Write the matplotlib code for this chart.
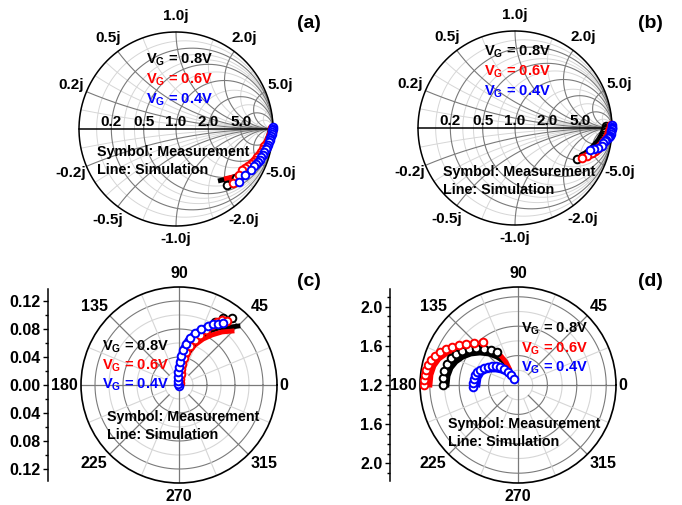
import numpy as np
import matplotlib
matplotlib.use("Agg")
import matplotlib.pyplot as plt
from matplotlib.ticker import MultipleLocator

plt.rcParams['font.family'] = 'Liberation Sans'
plt.rcParams['font.weight'] = 'bold'
plt.rcParams['mathtext.fontset'] = 'custom'
plt.rcParams['mathtext.rm'] = 'Liberation Sans:bold'
plt.rcParams['mathtext.bf'] = 'Liberation Sans:bold'
plt.rcParams['mathtext.default'] = 'bf'

W, H = 682, 505

# ---- data ----
voltages = ['0.8V', '0.6V', '0.4V']
colors = ['black', 'red', 'blue']

# (a) reflection coefficient, real / imag
a_meas_re = [[0.990, 0.985, 0.979, 0.969, 0.959, 0.948, 0.933, 0.918, 0.903, 0.887, 0.866, 0.845, 0.825, 0.804, 0.780, 0.753, 0.722, 0.691, 0.655, 0.619, 0.526],
             [0.990, 0.990, 0.985, 0.979, 0.969, 0.959, 0.948, 0.928, 0.907, 0.892, 0.876, 0.856, 0.835, 0.815, 0.794, 0.770, 0.742, 0.711, 0.680, 0.649, 0.588],
             [0.995, 0.995, 0.993, 0.990, 0.985, 0.979, 0.974, 0.969, 0.959, 0.948, 0.938, 0.928, 0.912, 0.897, 0.880, 0.866, 0.845, 0.825, 0.800, 0.773, 0.711, 0.649]]
a_meas_im = [[0.0, -0.020, -0.041, -0.082, -0.108, -0.134, -0.165, -0.196, -0.227, -0.258, -0.284, -0.309, -0.335, -0.361, -0.382, -0.402, -0.428, -0.454, -0.480, -0.505, -0.577],
             [0.010, -0.010, -0.031, -0.050, -0.072, -0.098, -0.124, -0.150, -0.175, -0.206, -0.237, -0.263, -0.289, -0.315, -0.340, -0.361, -0.381, -0.402, -0.423, -0.474, -0.557],
             [0.021, 0.005, -0.010, -0.031, -0.052, -0.072, -0.093, -0.113, -0.134, -0.160, -0.186, -0.211, -0.237, -0.263, -0.289, -0.315, -0.340, -0.360, -0.381, -0.423, -0.474, -0.546]]
a_sim_re = [[0.990, 0.979, 0.959, 0.928, 0.887, 0.835, 0.773, 0.701, 0.619, 0.526, 0.433],
            [0.990, 0.979, 0.959, 0.928, 0.897, 0.856, 0.804, 0.742, 0.670, 0.588, 0.495],
            [0.995, 0.990, 0.979, 0.959, 0.928, 0.887, 0.835, 0.773, 0.701, 0.629]]
a_sim_im = [[0.0, -0.062, -0.124, -0.196, -0.268, -0.330, -0.392, -0.443, -0.485, -0.515, -0.536],
            [0.0, -0.062, -0.124, -0.196, -0.258, -0.320, -0.371, -0.423, -0.464, -0.495, -0.515],
            [0.010, -0.052, -0.113, -0.175, -0.237, -0.299, -0.351, -0.402, -0.443, -0.474]]

# (b)
b_meas_re = [[0.938, 0.938, 0.933, 0.928, 0.923, 0.918, 0.907, 0.897, 0.887, 0.876, 0.861, 0.845, 0.825, 0.804, 0.780, 0.753, 0.701, 0.639],
             [0.990, 0.990, 0.985, 0.979, 0.974, 0.969, 0.959, 0.948, 0.933, 0.918, 0.903, 0.887, 0.866, 0.845, 0.820, 0.794, 0.742, 0.691],
             [0.995, 0.995, 0.995, 0.995, 0.993, 0.990, 0.985, 0.979, 0.969, 0.959, 0.943, 0.928, 0.912, 0.897, 0.856, 0.814, 0.773]]
b_meas_im = [[0.021, 0.005, -0.010, -0.025, -0.041, -0.072, -0.093, -0.113, -0.134, -0.155, -0.175, -0.196, -0.216, -0.237, -0.253, -0.268, -0.289, -0.320],
             [0.031, 0.015, 0.0, -0.015, -0.031, -0.050, -0.072, -0.093, -0.113, -0.134, -0.155, -0.175, -0.196, -0.217, -0.237, -0.258, -0.289, -0.309],
             [0.031, 0.015, 0.0, -0.015, -0.031, -0.046, -0.062, -0.078, -0.093, -0.108, -0.124, -0.139, -0.155, -0.186, -0.206, -0.216, -0.227]]
b_sim_re = [[0.928, 0.907, 0.887, 0.856, 0.814, 0.773, 0.722, 0.670],
            [0.990, 0.979, 0.959, 0.928, 0.897, 0.856, 0.804, 0.753],
            [0.995, 0.995, 0.990, 0.969, 0.938, 0.897, 0.845, 0.794]]
b_sim_im = [[0.010, -0.031, -0.072, -0.124, -0.175, -0.216, -0.258, -0.289],
            [0.021, -0.021, -0.072, -0.124, -0.165, -0.206, -0.247, -0.278],
            [0.021, -0.021, -0.062, -0.103, -0.144, -0.175, -0.206, -0.227]]

# (c) polar: angle (deg), magnitude
c_meas_th = [[90, 90, 83.7, 85.9, 84.0, 82.9, 80.5, 77.5, 74.1, 70.5, 66.5, 63.4, 60.3, 56.7, 51.7],
             [63, 80.5, 79.7, 82.9, 81.9, 79.5, 78.0, 74.2, 70.4, 67.2, 63.9, 61.2, 58.9, 56.5, 53.1],
             [270, 135, 104, 97.1, 94.4, 90, 87.5, 86.1, 83.5, 80.3, 76.8, 72.9, 68.6, 63.8, 60.9, 57.4, 54.6]]
c_meas_r = [[0.003, 0.007, 0.013, 0.020, 0.027, 0.0346, 0.0434, 0.0527, 0.0624, 0.0727, 0.0826, 0.0926, 0.1037, 0.1145, 0.122],
            [0.003, 0.0087, 0.016, 0.023, 0.0303, 0.0393, 0.0482, 0.0579, 0.0683, 0.0775, 0.0875, 0.0978, 0.105, 0.111, 0.114],
            [0.0014, 0.002, 0.0059, 0.0115, 0.0186, 0.0257, 0.0329, 0.0415, 0.0503, 0.0594, 0.069, 0.0777, 0.086, 0.0939, 0.0998, 0.1034, 0.1086]]
c_sim_th = [[90, 85.6, 83.2, 78.7, 73.2, 66.8, 60.9, 54.9, 49.2, 45.0],
            [90, 77.0, 76.0, 73.1, 68.2, 62.4, 56.6, 51.0, 45.5],
            [90, 94.4, 90.0, 85.2, 79.9, 73.9, 68.0, 61.9, 56.1]]
c_sim_r = [[0.0, 0.0186, 0.036, 0.051, 0.064, 0.076, 0.088, 0.0995, 0.109, 0.119],
           [0.003, 0.019, 0.035, 0.049, 0.0616, 0.074, 0.0856, 0.0975, 0.108],
           [0.0, 0.0186, 0.0357, 0.0516, 0.0653, 0.0773, 0.0878, 0.0971, 0.105]]

# (d) polar: angle (deg), magnitude
d_meas_th = [[180, 174.7, 169.3, 163.5, 158.1, 153.4, 148.7, 143.7, 138.6, 133.4, 127.7, 122.5],
             [180, 177.0, 173.9, 170.7, 167.5, 164.0, 160.7, 157.1, 153.4, 150.1, 145.9, 141.7, 136.3, 129.1],
             [182.5, 177.5, 172.2, 166.9, 162.4, 158.5, 153.4, 149.0, 143.8, 139.2, 135.0, 131.2, 127.6, 125.0, 123.7]]
d_meas_r = [[1.965, 1.969, 1.968, 1.955, 1.937, 1.907, 1.868, 1.820, 1.771, 1.705, 1.651, 1.599],
            [2.159, 2.160, 2.154, 2.151, 2.141, 2.124, 2.097, 2.064, 2.021, 1.977, 1.927, 1.876, 1.821, 1.766],
            [1.659, 1.660, 1.653, 1.650, 1.639, 1.617, 1.588, 1.557, 1.529, 1.497, 1.460, 1.417, 1.367, 1.325, 1.274]]
d_sim_th = [[180, 172.7, 165.8, 159.6, 153.0, 146.6, 139.9, 133.1, 126.9, 122.0, 120.1, 121.0],
            [180, 173.4, 167.3, 161.8, 156.7, 150.9, 145.1, 138.5, 131.7, 125.2, 120.4, 117.6, 117.9],
            [180, 169.8, 161.6, 156.4, 150.9, 145.7, 140.5, 135.0, 131.6, 129.8, 126.9]]
d_sim_r = [[1.924, 1.920, 1.905, 1.875, 1.830, 1.775, 1.707, 1.633, 1.557, 1.489, 1.424, 1.379],
           [2.098, 2.094, 2.079, 2.049, 2.000, 1.936, 1.860, 1.786, 1.706, 1.625, 1.543, 1.465, 1.396],
           [1.608, 1.604, 1.587, 1.556, 1.515, 1.472, 1.425, 1.373, 1.323, 1.280, 1.251]]

smith_major = [0.2, 0.5, 1.0, 2.0, 5.0]
smith_minor = [0.1, 0.3, 0.4, 0.7, 1.5, 3.0, 10.0]
c_rings = [0.02, 0.04, 0.06, 0.08, 0.10, 0.12]
d_rings = [1.35, 1.5, 1.65, 1.8, 1.95, 2.1]
angle_ticks = [0, 45, 90, 135, 180, 225, 270, 315]

DARK = '#7a7a7a'
LIGHT = '#d6d6d6'

fig = plt.figure(figsize=(W / 100, H / 100), dpi=100)


def px_axes(cx, cy, half, **kw):
    return fig.add_axes([(cx - half) / W, (H - cy - half) / H, 2 * half / W, 2 * half / H], **kw)


def ftext(x, y, s, **kw):
    fig.text(x / W, 1 - y / H, s, **kw)


def smith(cx, cy, meas_re, meas_im, sim_re, sim_im):
    L = 1.35
    ax = px_axes(cx, cy, 97 * L)
    ax.set_xlim(-L, L)
    ax.set_ylim(-L, L)
    ax.axis('off')
    t = np.linspace(0, 2 * np.pi, 400)
    rr = np.concatenate([[0], np.logspace(-3, 3, 400)])
    for vals, col, lw in [(smith_minor, LIGHT, 0.7), (smith_major, DARK, 0.8)]:
        for v in vals:
            c, rad = v / (1 + v), 1 / (1 + v)
            ax.plot(c + rad * np.cos(t), rad * np.sin(t), color=col, lw=lw, zorder=1)
            for s in (1, -1):
                g = (rr + 1j * s * v - 1) / (rr + 1j * s * v + 1)
                ax.plot(g.real, g.imag, color=col, lw=lw, zorder=1)
    ax.plot(np.cos(t), np.sin(t), color='black', lw=1.1, zorder=2)
    ax.plot([-1, 1], [0, 0], color='black', lw=1.1, zorder=2)
    for v in smith_major:
        ax.text((v - 1) / (v + 1), 0.0, f'{v:.1f}', ha='center', va='bottom', fontsize=11, zorder=3)
        ang = np.pi - 2 * np.arctan(v)
        for s in (1, -1):
            lab = f'{v:.1f}j' if s > 0 else f'-{v:.1f}j'
            rl = 1.13 if (v == 1.0 and s < 0) else 1.17
            ax.text(rl * np.cos(ang), s * rl * np.sin(ang), lab, ha='center', va='center', fontsize=11)
    for k in range(3):
        ax.plot(sim_re[k], sim_im[k], color=colors[k], lw=3.5, zorder=4, solid_capstyle='butt')
        ax.plot(meas_re[k], meas_im[k], 'o', color=colors[k], mfc='white', ms=5.5, mew=1.4, zorder=5)
    return ax


def polar(cx, cy, rmin, rmax, rings, meas_th, meas_r, sim_th, sim_r):
    ax = px_axes(cx, cy, 98, projection='polar')
    ax.set_ylim(rmin, rmax)
    ax.grid(False)
    ax.set_yticks([])
    ax.set_xticks([])
    ax.spines['polar'].set_linewidth(1.2)
    t = np.linspace(0, 2 * np.pi, 300)
    for i, r in enumerate(rings):
        col = DARK if i % 2 == 1 else LIGHT
        ax.plot(t, np.full_like(t, r), color=col, lw=0.8, zorder=1)
    for a in np.arange(0, 360, 22.5):
        if a % 90 == 0:
            ax.plot(np.deg2rad([a, a]), [rmin, rmax], color=DARK, lw=0.9, zorder=1)
        elif a % 45 == 0:
            ax.plot(np.deg2rad([a, a]), [rings[0], rmax], color=DARK, lw=0.9, zorder=1)
        else:
            ax.plot(np.deg2rad([a, a]), [rings[0], rmax], color=LIGHT, lw=0.8, zorder=1)
    for a in angle_ticks:
        c, s = np.cos(np.deg2rad(a)), np.sin(np.deg2rad(a))
        ha = 'center' if abs(c) < 0.1 else ('left' if c > 0 else 'right')
        va = 'center' if abs(s) < 0.1 else ('bottom' if s > 0 else 'top')
        gap = 4 if a in (90, 270) else 2
        ax.annotate(str(a), xy=(np.deg2rad(a), rmax), xytext=(gap * c, gap * s), textcoords='offset points',
                    ha=ha, va=va, fontsize=11.5, fontweight='bold', annotation_clip=False)
    for k in range(3):
        ax.plot(np.deg2rad(sim_th[k]), sim_r[k], color=colors[k], lw=3.5, zorder=4)
        ax.plot(np.deg2rad(meas_th[k]), meas_r[k], 'o', color=colors[k], mfc='white', ms=5.5, mew=1.4, zorder=5)
    return ax


def side_axis(x, cy, lim, major, minor, fmt):
    sa = fig.add_axes([x / W, (H - cy - 96) / H, 1 / W, 192 / H])
    sa.set_facecolor('none')
    for s in ('top', 'right', 'bottom'):
        sa.spines[s].set_visible(False)
    sa.spines['left'].set_linewidth(1.1)
    sa.set_xticks([])
    sa.set_ylim(-lim, lim)
    sa.set_yticks(major)
    sa.set_yticklabels([fmt(v) for v in major], fontsize=11.5, fontweight='bold')
    sa.yaxis.set_minor_locator(MultipleLocator(minor))
    sa.tick_params(axis='y', which='major', direction='out', length=3.5, width=1, pad=2)
    sa.tick_params(axis='y', which='minor', direction='out', length=2, width=1)


smith(176, 129, a_meas_re, a_meas_im, a_sim_re, a_sim_im)
smith(515, 128, b_meas_re, b_meas_im, b_sim_re, b_sim_im)
polar(179, 385, 0, 0.14, c_rings, c_meas_th, c_meas_r, c_sim_th, c_sim_r)
polar(518, 385, 1.2, 2.2, d_rings, d_meas_th, d_meas_r, d_sim_th, d_sim_r)
side_axis(48, 385, 0.14 * 96 / 98, [-0.12, -0.08, -0.04, 0, 0.04, 0.08, 0.12], 0.02, lambda v: f'{abs(v):.2f}')
side_axis(390, 385, 1.0 * 96 / 98, [-0.8, -0.4, 0, 0.4, 0.8], 0.1, lambda v: f'{abs(v) + 1.2:.1f}')

# annotations
vg_pos = [(146, 60), (484, 52), (102, 347), (521, 329)]
vg_gap = [20, 20, 19, 19.5]
sym_pos = [(97, 152), (443, 172), (107, 417), (448, 424)]
for (x, y), gap in zip(vg_pos, vg_gap):
    for k in range(3):
        ftext(x, y + k * gap, 'V$_G$ = ' + voltages[k], color=colors[k], fontsize=10.5,
              fontweight='bold', ha='left', va='center')
for x, y in sym_pos:
    ftext(x, y, 'Symbol: Measurement', fontsize=10.3, fontweight='bold', ha='left', va='center')
    ftext(x, y + 18, 'Line: Simulation', fontsize=10.3, fontweight='bold', ha='left', va='center')

for lab, (x, y) in zip(['(a)', '(b)', '(c)', '(d)'], [(309, 24), (650, 24), (309, 282), (650, 282)]):
    ftext(x, y, lab, fontsize=14, fontweight='bold', ha='center', va='center')

fig.savefig('out.png', dpi=100)
